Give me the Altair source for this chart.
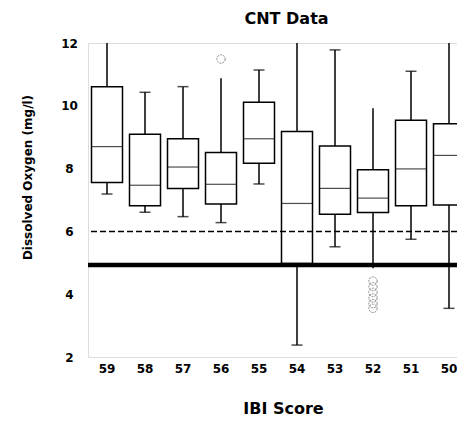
import altair as alt
import pandas as pd

# IBI score groups (x categories, in the order shown)
scores = ["59", "58", "57", "56", "55", "54", "53", "52", "51", "50"]

# Box plot statistics of dissolved oxygen (mg/l)
whisker_low = [7.19, 6.61, 6.47, 6.28, 7.51, 2.38, 5.51, 4.83, 5.75, 3.55]
q1 = [7.56, 6.82, 7.37, 6.87, 8.17, 4.98, 6.55, 6.60, 6.82, 6.84]
median = [8.70, 7.47, 8.05, 7.50, 8.95, 6.89, 7.37, 7.06, 7.99, 8.42]
q3 = [10.61, 9.09, 8.95, 8.51, 10.11, 9.18, 8.72, 7.96, 9.54, 9.43]
whisker_high = [12.0, 10.43, 10.61, 10.88, 11.14, 12.0, 11.78, 9.92, 11.10, 12.0]
low_cap = [True, True, True, True, True, True, True, False, True, True]
high_cap = [False, True, True, False, True, False, True, False, True, False]

# Outliers
outlier_score = ["56", "52", "52", "52", "52", "52", "52"]
outlier_value = [11.49, 4.42, 4.24, 4.06, 3.88, 3.70, 3.55]

# Reference lines
dashed_ref = [6.0]
solid_ref = [4.93]

y_ticks = [2, 4, 6, 8, 10, 12]

FONT = "DejaVu Sans"

df = pd.DataFrame({
    "score": scores, "low": whisker_low, "q1": q1, "med": median,
    "q3": q3, "high": whisker_high, "lcap": low_cap, "hcap": high_cap,
})
out_df = pd.DataFrame({"score": outlier_score, "value": outlier_value})
dash_df = pd.DataFrame({"v": dashed_ref})
solid_df = pd.DataFrame({"v": solid_ref})

x_axis = alt.Axis(
    title="IBI Score", labelAngle=0, ticks=False, domain=False, grid=False,
    labelPadding=6, labelFont=FONT, labelFontSize=12, labelFontWeight="bold",
    labelColor="black", labelOverlap=False, labelBound=False,
    titleFont=FONT, titleFontSize=16, titleFontWeight="bold",
    titleColor="black", titleX=195, titleY=51, titleBaseline="middle",
    titleAlign="center",
)
y_axis = alt.Axis(
    title="Dissolved Oxygen (mg/l)", values=y_ticks, ticks=False, domain=False,
    grid=False, labelAlign="center", labelBaseline="middle", labelPadding=19,
    labelFont=FONT, labelFontSize=12, labelFontWeight="bold", labelColor="black",
    titleFont=FONT, titleFontSize=12, titleFontWeight="bold", titleColor="black",
    titleX=-61, titleY=134, titleBaseline="middle", titleAlign="center",
)

x_scale = alt.Scale(domain=scores, range=[0, 380], paddingInner=0, paddingOuter=0)
y_scale = alt.Scale(domain=[2, 12], nice=False, zero=False)

X = alt.X("score:N", sort=scores, scale=x_scale, axis=x_axis)

def Y(field):
    return alt.Y(field, type="quantitative", scale=y_scale, axis=y_axis)

base = alt.Chart(df)

whisk_hi = base.mark_rule(color="black", strokeWidth=1.5).encode(
    x=X, y=Y("q3"), y2="high")
whisk_lo = base.mark_rule(color="black", strokeWidth=1.5).encode(
    x=X, y=Y("low"), y2="q1")
boxes = base.mark_bar(size=31, fill="white", stroke="black", strokeWidth=1.5).encode(
    x=X, y=Y("q1"), y2="q3")
medians = base.mark_tick(size=31, thickness=1.2, color="black").encode(
    x=X, y=Y("med"))
caps_lo = base.transform_filter("datum.lcap").mark_tick(
    size=11, thickness=1.5, color="black").encode(x=X, y=Y("low"))
caps_hi = base.transform_filter("datum.hcap").mark_tick(
    size=11, thickness=1.5, color="black").encode(x=X, y=Y("high"))
outliers = alt.Chart(out_df).mark_point(
    shape="circle", size=70, filled=False, stroke="#555", strokeWidth=1,
    strokeDash=[2, 1]).encode(x=X, y=Y("value"))
dash_line = alt.Chart(dash_df).mark_rule(
    color="black", strokeWidth=1.5, strokeDash=[6, 3]).encode(y=Y("v"))
solid_line = alt.Chart(solid_df).mark_rule(
    color="black", strokeWidth=4.5).encode(y=Y("v"))

chart = alt.layer(
    whisk_hi, whisk_lo, boxes, medians, caps_lo, caps_hi, outliers,
    dash_line, solid_line,
).properties(
    width=369, height=314,
    title=alt.TitleParams("CNT Data", font=FONT, fontSize=16, fontWeight="bold",
                          color="black", dx=14, offset=10),
    autosize=alt.AutoSizeParams(type="none"),
    padding={"left": 80, "top": 35, "right": 0, "bottom": 59},
).configure_view(
    stroke="#999", strokeDash=[1, 2], strokeWidth=1
).configure(background="white")

chart.save("out.html", embed_options={"renderer": "svg", "actions": False})
